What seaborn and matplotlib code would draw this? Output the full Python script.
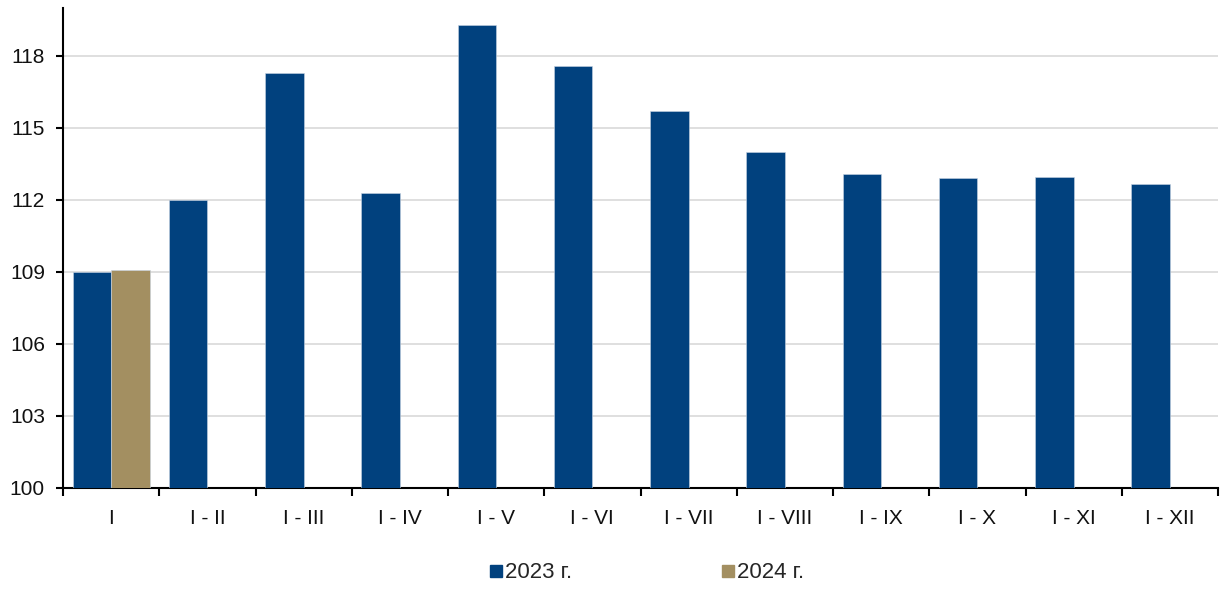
import matplotlib
matplotlib.use("Agg")
import matplotlib.pyplot as plt
import seaborn as sns
import pandas as pd
import numpy as np
from matplotlib.lines import Line2D

categories = ["I", "I - II", "I - III", "I - IV", "I - V", "I - VI", "I - VII",
              "I - VIII", "I - IX", "I - X", "I - XI", "I - XII"]
values_2023 = [109.0, 112.0, 117.3, 112.3, 119.3, 117.6, 115.7, 114.0, 113.1, 112.9, 112.95, 112.65]
values_2024 = [109.1]
series_names = ["2023 г.", "2024 г."]
colors = ["#01417E", "#A38F61"]
yticks = [100, 103, 106, 109, 112, 115, 118]

rows = []
for c, v in zip(categories, values_2023):
    rows.append({"cat": c, "val": v, "year": series_names[0]})
for c, v in zip(categories, values_2024):
    rows.append({"cat": c, "val": v, "year": series_names[1]})
df = pd.DataFrame(rows)

sns.set_theme(style="white")
plt.rcParams['font.family'] = ['Liberation Sans', 'DejaVu Sans']

fig = plt.figure(figsize=(12.27, 5.90), dpi=100)
ax = fig.add_axes([63/1227, 1-488/590, (1218-63)/1227, (488-8)/590])

sns.barplot(data=df, x="cat", y="val", hue="year", order=categories,
            hue_order=series_names, palette=colors, width=0.8, gap=0,
            saturation=1, errorbar=None, ax=ax, legend=False,
            edgecolor="#c8d4e3", linewidth=0.4, zorder=3)

ax.set_ylim(100, 120)
ax.set_xlim(-0.5, len(categories) - 0.5)
ax.set_yticks(yticks)
ax.set_yticklabels([str(t) for t in yticks], fontsize=15, color="#111111")
ax.set_xticks(range(len(categories)))
ax.set_xticklabels(categories, fontsize=15, color="#111111")
ax.set_xticks(np.arange(-0.5, len(categories), 1.0), minor=True)
ax.tick_params(axis="x", which="both", bottom=True)
ax.tick_params(axis="y", which="both", left=True)
ax.tick_params(axis="x", which="major", length=0, pad=15)
ax.tick_params(axis="x", which="minor", length=6, width=1.5, color="black", direction="out")
ax.tick_params(axis="y", which="major", length=5, width=1.5, color="black", direction="out", pad=8)
ax.set_xlabel("")
ax.set_ylabel("")
ax.yaxis.grid(True, color="#d9d9d9", linewidth=1.2, zorder=0)
ax.set_axisbelow(True)
for s in ["top", "right"]:
    ax.spines[s].set_visible(False)
for s in ["left", "bottom"]:
    ax.spines[s].set_color("black")
    ax.spines[s].set_linewidth(1.5)

handles = [Line2D([0], [0], marker="s", linestyle="", markersize=8,
                  markerfacecolor=col, markeredgecolor=col) for col in colors]
fig.legend(handles, series_names, loc="center", bbox_to_anchor=(0.527, 1-573/590),
           ncol=2, frameon=False, fontsize=16, handletextpad=0.13,
           columnspacing=6.7, handlelength=0.6)

fig.savefig("out.png", dpi=100)
